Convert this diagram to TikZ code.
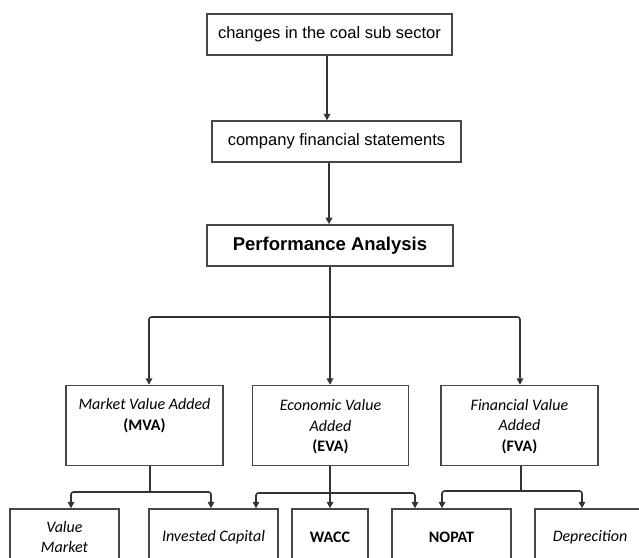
\documentclass[tikz,border=0pt]{standalone}
\usepackage{fontspec}
\setmainfont{Liberation Sans}
\newfontfamily\calfont{Carlito}
\usetikzlibrary{arrows.meta}
\begin{document}
\begin{tikzpicture}[x=1pt,y=-1pt,
  box/.style={draw=black!72,line width=1.4pt,fill=white,inner sep=0pt,align=center},
  link/.style={draw=black!80,line width=1.6pt,rounded corners=2.5pt},
  arr/.style={link,-{Triangle[length=6.5pt,width=6.5pt]}},
  toptext/.style={font=\fontsize{16.5}{20}\selectfont},
  subtext/.style={font=\calfont\fontsize{16}{20.5}\selectfont,align=center,inner sep=0pt}]
\useasboundingbox (0,0) rectangle (639,557);
\clip (0,0) rectangle (639,557);
% top chain
\node[box,line width=2pt,minimum width=245pt,minimum height=41pt,toptext] (b1) at (329.5,34.5) {changes in the coal sub sector};
\node[box,minimum width=249pt,minimum height=41pt,toptext] (b2) at (336.5,141.5) {company financial statements};
\node[box,line width=1.6pt,minimum width=246pt,minimum height=41pt,font=\bfseries\fontsize{18.5}{20}\selectfont] (pa) at (330,245.5) {Performance Analysis};
% middle boxes
\node[box,minimum width=157pt,minimum height=80pt] (mva) at (144.5,425.5) {};
\node[box,minimum width=156pt,minimum height=80pt] (eva) at (330.5,425.5) {};
\node[box,minimum width=157pt,minimum height=80pt] (fva) at (519.5,425.5) {};
\node[subtext] (mvat) at (144.5,415.5) {\itshape Market Value Added\\\bfseries (MVA)};
\node[subtext] (evat) at (330.5,427) {\itshape Economic Value\\\itshape Added\\\bfseries (EVA)};
\node[subtext] (fvat) at (519.5,426.5) {\itshape Financial Value\\\itshape Added\\\bfseries (FVA)};
% bottom boxes
\node[box,minimum width=109pt,minimum height=56pt,subtext] (vm) at (64.5,537) {\itshape Value\\\itshape Market};
\node[box,minimum width=129pt,minimum height=56pt,subtext] (ic) at (213.5,537) {\itshape Invested Capital};
\node[box,minimum width=76pt,minimum height=56pt,subtext] (wacc) at (330,537) {\bfseries WACC};
\node[box,minimum width=119pt,minimum height=56pt,subtext] (nopat) at (451.5,537) {\bfseries NOPAT};
\node[box,minimum width=110pt,minimum height=56pt,subtext] (dep) at (590,537) {\itshape Deprecition};
% connectors top
\draw[arr] ([xshift=-2.5]b1.south) -- ([xshift=-9.5]b2.north);
\draw[arr] ([xshift=-7.5]b2.south) -- ([xshift=-1]pa.north);
\coordinate (j0) at (330,317);
\draw[link] (pa.south) -- (j0);
\draw[arr] (j0) -| ([xshift=4.5]mva.north);
\draw[arr] (j0) -- (j0 |- eva.north);
\draw[arr] (j0) -| ([xshift=0.5]fva.north);
% connectors MVA
\coordinate (j1) at (150,492);
\draw[link] ([xshift=5.5]mva.south) -- (j1);
\draw[arr] (j1) -| ([xshift=6.5]vm.north);
\draw[arr] (j1) -| ([xshift=-2.5]ic.north);
% connectors EVA
\coordinate (j2) at (330,493);
\draw[arr] (eva.south -| j2) -- (wacc.north);
\draw[arr] (j2) -| ([xshift=42.5]ic.north);
\draw[arr] (j2) -| ([xshift=-36.5]nopat.north);
% connectors FVA
\coordinate (j3) at (521,491);
\draw[link] ([xshift=1.5]fva.south) -- (j3);
\draw[arr] (j3) -| ([xshift=-9.5]nopat.north);
\draw[arr] (j3) -| ([xshift=-8]dep.north);
\end{tikzpicture}
\end{document}
